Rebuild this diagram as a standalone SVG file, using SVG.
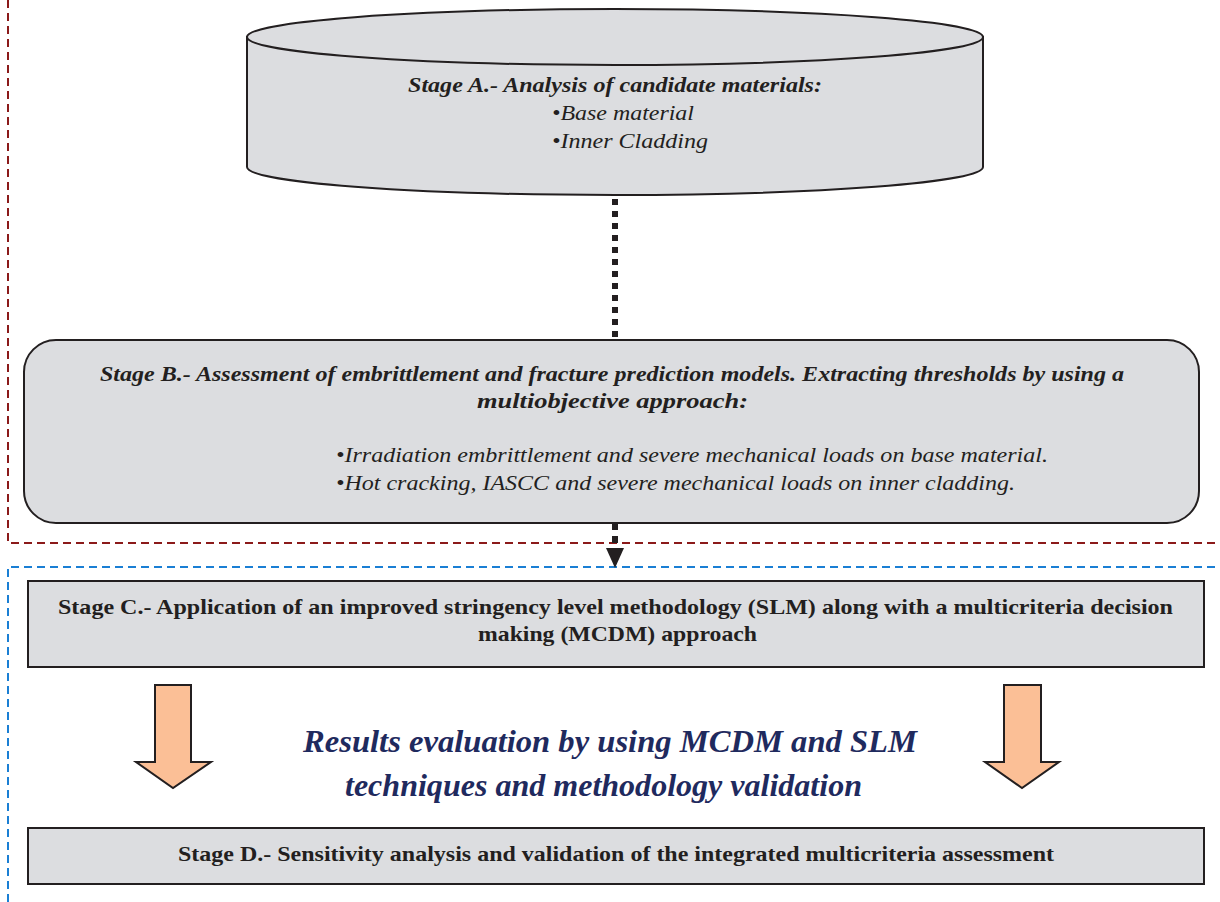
<svg xmlns="http://www.w3.org/2000/svg" width="1220" height="902" viewBox="0 0 1220 902">
<style>
.box{fill:#dcdde0;stroke:#231f20;stroke-width:2}
text{font-family:"Liberation Serif","Times New Roman","DejaVu Serif",serif}
.bi{font-style:italic;font-weight:bold;fill:#231f20}
.it{font-style:italic;fill:#231f20}
.bd{font-weight:bold;fill:#231f20}
.res{font-style:italic;font-weight:bold;fill:#1f2a5e;font-size:32px}
.orange{fill:#fbbf96;stroke:#231f20;stroke-width:2}
</style>
<g id="frames" fill="none" stroke-width="2">
<path d="M8,0 V543 H1220" stroke="#8b1a1a" stroke-dasharray="8 5"/>
<path d="M8,902 V567 H1220" stroke="#1a7fd4" stroke-dasharray="8 5"/>
</g>
<g id="connectors">
<line x1="615" y1="199" x2="615" y2="338" stroke="#231f20" stroke-width="6" stroke-dasharray="6 6"/>
<line x1="615" y1="523" x2="615" y2="543" stroke="#231f20" stroke-width="6" stroke-dasharray="7 6"/>
<path d="M606,548 L624,548 L615,568 Z" fill="#231f20"/>
</g>
<g id="stageA">
<path class="box" d="M247,37 L247,167 A368,28 0 0 0 983,167 L983,37 Z"/>
<ellipse class="box" cx="615" cy="37" rx="368" ry="28"/>
<text class="bi" x="408" y="92" font-size="22" textLength="414" lengthAdjust="spacingAndGlyphs">Stage A.- Analysis of candidate materials:</text>
<text class="it" x="552" y="120" font-size="22" textLength="142" lengthAdjust="spacingAndGlyphs">•Base material</text>
<text class="it" x="552" y="148" font-size="22" textLength="156" lengthAdjust="spacingAndGlyphs">•Inner Cladding</text>
</g>
<g id="stageB">
<rect class="box" x="24" y="340" width="1175" height="183" rx="32" ry="32"/>
<text class="bi" x="100" y="381" font-size="22" textLength="1024" lengthAdjust="spacingAndGlyphs">Stage B.- Assessment of embrittlement and fracture prediction models. Extracting thresholds by using a</text>
<text class="bi" x="477" y="408" font-size="22" textLength="271" lengthAdjust="spacingAndGlyphs">multiobjective approach:</text>
<text class="it" x="336" y="462" font-size="22" textLength="712" lengthAdjust="spacingAndGlyphs">•Irradiation embrittlement and severe mechanical loads on base material.</text>
<text class="it" x="336" y="490" font-size="22" textLength="679" lengthAdjust="spacingAndGlyphs">•Hot cracking, IASCC and severe mechanical loads on inner cladding.</text>
</g>
<g id="stageC">
<rect class="box" x="28" y="581" width="1176" height="86"/>
<text class="bd" x="58" y="614" font-size="21" textLength="1115" lengthAdjust="spacingAndGlyphs">Stage C.- Application of an improved stringency level methodology (SLM) along with a multicriteria decision</text>
<text class="bd" x="478" y="641" font-size="21" textLength="279" lengthAdjust="spacingAndGlyphs">making (MCDM) approach</text>
</g>
<g id="results">
<path class="orange" d="M155,685 H191 V762 H211 L173,788 L136,762 H155 Z"/>
<path class="orange" d="M1004,685 H1041 V762 H1059 L1022,788 L985,762 H1004 Z"/>
<text class="res" x="303" y="752" textLength="614" lengthAdjust="spacingAndGlyphs">Results evaluation by using MCDM and SLM</text>
<text class="res" x="345" y="796" textLength="517" lengthAdjust="spacingAndGlyphs">techniques and methodology validation</text>
</g>
<g id="stageD">
<rect class="box" x="28" y="828" width="1176" height="56"/>
<text class="bd" x="178" y="861" font-size="21" textLength="876" lengthAdjust="spacingAndGlyphs">Stage D.- Sensitivity analysis and validation of the integrated multicriteria assessment</text>
</g>
</svg>
